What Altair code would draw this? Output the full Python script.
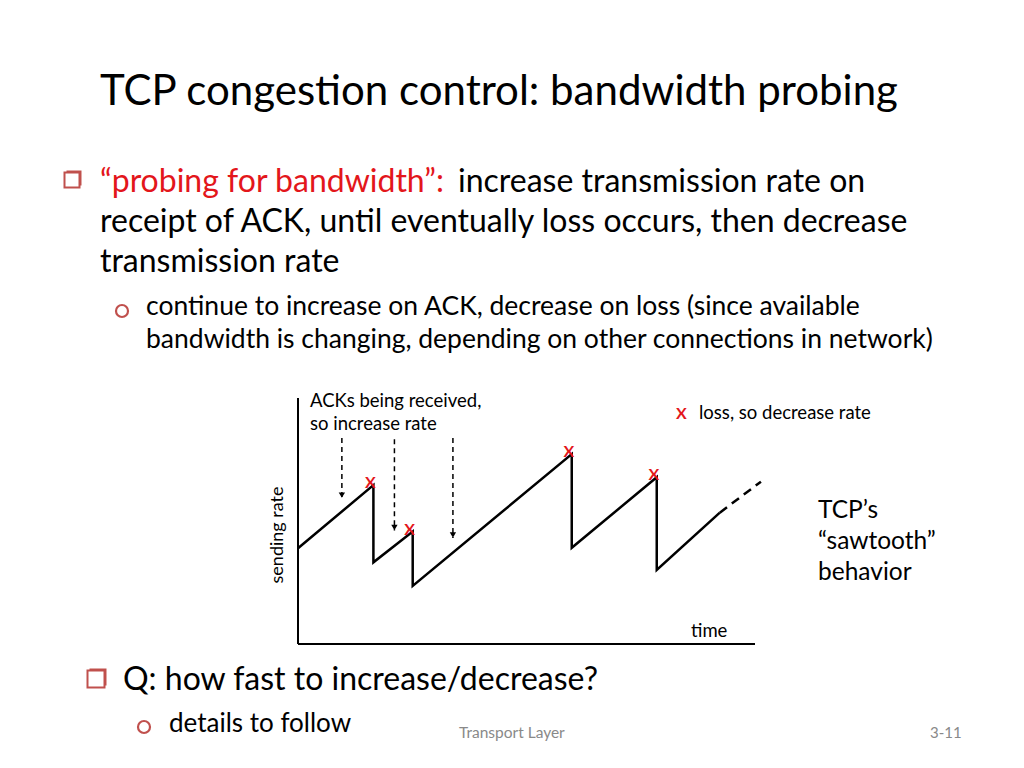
import altair as alt
import pandas as pd

# ---- data (sawtooth sending rate vs time, arbitrary units 0..100) ----
saw_time = [0, 16.5, 16.5, 25.1, 25.1, 59.9, 59.9, 78.5, 78.5, 92.3]
saw_rate = [38.9, 64.6, 33.2, 45.7, 23.6, 77.2, 39.1, 67.8, 30.1, 53.4]
cont_time = [92.3, 101.3]
cont_rate = [53.4, 66.0]
loss_time = [16.5, 25.1, 59.9, 78.5]
loss_rate = [64.6, 45.7, 77.2, 67.8]
ack_time = [9.6, 21.1, 33.9]
ack_from = [83.7, 83.2, 83.7]
ack_to = [59.3, 46.1, 43.1]
axis_max = 100

FONT = "Lato"
RED = "#E3161B"
BUL = "#C0504D"

W, H = 1008, 752
xs = alt.Scale(domain=[0, 100], range=[290, 747])
ys = alt.Scale(domain=[0, 100], range=[636, 390])

saw = pd.DataFrame({"t": saw_time, "r": saw_rate, "i": list(range(len(saw_time)))})
cont = pd.DataFrame({"t": cont_time, "r": cont_rate, "i": [0, 1]})
loss = pd.DataFrame({"t": loss_time, "r": loss_rate})
ack = pd.DataFrame({"t": ack_time, "r0": ack_from, "r1": ack_to})
axes = pd.DataFrame({"t0": [0, 0], "t1": [axis_max, 0], "r0": [0, 0], "r1": [0, axis_max]})
one = pd.DataFrame({"a": [0]})

X = alt.X("t:Q", scale=xs, axis=None)
Y = alt.Y("r:Q", scale=ys, axis=None)

axis_lines = alt.Chart(axes).mark_rule(color="black", strokeWidth=2).encode(
    x=alt.X("t0:Q", scale=xs, axis=None), x2="t1:Q",
    y=alt.Y("r0:Q", scale=ys, axis=None), y2="r1:Q")

saw_line = alt.Chart(saw).mark_line(color="black", strokeWidth=2.5).encode(
    x=X, y=Y, order="i:Q")
cont_line = alt.Chart(cont).mark_line(color="black", strokeWidth=2.5, strokeDash=[9, 6]).encode(
    x=X, y=Y, order="i:Q")

loss_x = alt.Chart(loss).mark_text(text="X", color=RED, font=FONT, fontWeight="bold",
                                   fontSize=16, dx=-3, dy=-2).encode(x=X, y=Y)

ack_rules = alt.Chart(ack).mark_rule(color="black", strokeWidth=1.5, strokeDash=[5, 4]).encode(
    x=alt.X("t:Q", scale=xs, axis=None),
    y=alt.Y("r0:Q", scale=ys, axis=None), y2="r1:Q")
ack_heads = alt.Chart(ack).mark_point(shape="triangle-down", filled=True, color="black",
                                      size=40, opacity=1, yOffset=-3).encode(
    x=alt.X("t:Q", scale=xs, axis=None),
    y=alt.Y("r1:Q", scale=ys, axis=None))


def txt(s, x, y, size, color="black", **kw):
    return alt.Chart(one).mark_text(text=s, font=FONT, fontSize=size, color=color,
                                    align=kw.pop("align", "left"),
                                    baseline=kw.pop("baseline", "alphabetic"), **kw).encode(
        x=alt.value(x), y=alt.value(y))


def square(x, y, s):
    shadow = alt.Chart(one).mark_square(color=BUL, filled=True, size=s * s, opacity=1).encode(
        x=alt.value(x + 2), y=alt.value(y - 2))
    box = alt.Chart(one).mark_square(fill="white", filled=True, stroke=BUL, strokeWidth=2,
                                     size=s * s, opacity=1).encode(x=alt.value(x), y=alt.value(y))
    return shadow + box


def circle(x, y, s):
    return alt.Chart(one).mark_point(shape="circle", filled=False, color=BUL, strokeWidth=2.2,
                                     size=s * s, opacity=1).encode(x=alt.value(x), y=alt.value(y))


layers = [
    txt("TCP congestion control: bandwidth probing", 92, 97, 42),
    square(64, 172, 15),
    txt("\u201cprobing for bandwidth\u201d:", 92, 184, 32, RED),
    txt("increase transmission rate on", 450, 184, 32),
    txt("receipt of ACK, until eventually loss occurs, then decrease", 92, 224, 32),
    txt("transmission rate", 92, 264, 32),
    circle(114, 303, 12),
    txt("continue to increase on ACK, decrease on loss (since available", 138, 307, 26.5),
    txt("bandwidth is changing, depending on other connections in network)", 138, 340, 26.5),
    axis_lines, saw_line, cont_line, ack_rules, ack_heads, loss_x,
    txt("ACKs being received,", 302, 399, 18.5),
    txt("so increase rate", 302, 422, 18.5),
    txt("X", 668, 411, 16, RED, fontWeight="bold"),
    txt("loss, so decrease rate", 691, 411, 18.5),
    txt("time", 683, 629, 18.5),
    txt("sending rate", 270, 527, 18, angle=270, align="center", baseline="middle"),
    txt("TCP\u2019s", 810, 510, 24.5),
    txt("\u201csawtooth\u201d", 810, 541, 24.5),
    txt("behavior", 810, 572, 24.5),
    square(88, 671, 17),
    txt("Q: how fast to increase/decrease?", 115, 682, 32),
    circle(136, 719, 12),
    txt("details to follow", 161, 724, 26),
    txt("Transport Layer", 451, 730, 15.5, "#898989"),
    txt("3-11", 922, 730, 15, "#898989"),
]

chart = alt.layer(*layers).properties(width=W, height=H, padding=0, background="white").configure_view(
    stroke=None)

chart.save("out.html", embed_options={"renderer": "svg", "actions": False})
